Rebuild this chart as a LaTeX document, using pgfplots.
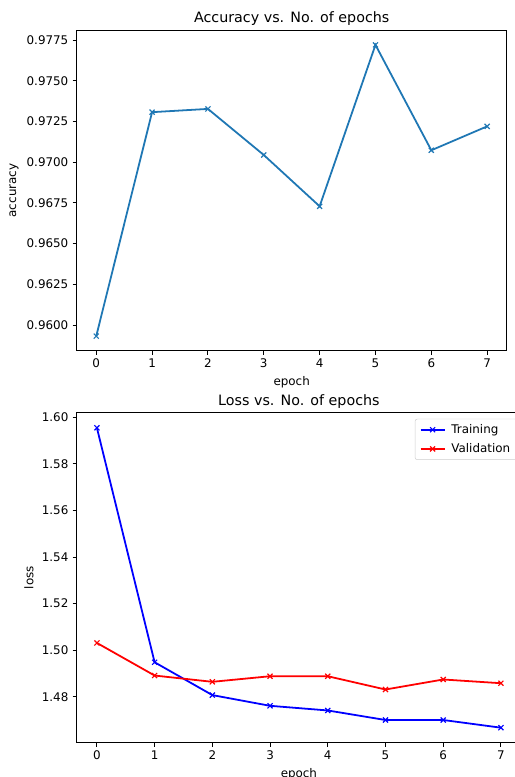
\documentclass[border=0pt]{standalone}
\usepackage{fontspec}
\setmainfont{DejaVu Sans}
\usepackage{pgfplots}
\pgfplotsset{compat=1.18}

\definecolor{mplblue}{HTML}{1F77B4}

\pgfplotsset{
  mplstyle/.style={
    scale only axis,
    axis line style={black,line width=0.8pt},
    tick style={black,line width=0.8pt},
    tick align=outside,
    major tick length=3.5pt,
    xtick pos=left, ytick pos=left,
    /pgf/number format/assume math mode=true,
    ticklabel style={font=\fontsize{10}{12}\selectfont},
    label style={font=\fontsize{10}{12}\selectfont},
    title style={font=\fontsize{12}{14}\selectfont,yshift=-5pt},
    xmin=-0.35, xmax=7.35,
    xtick={0,1,...,7},
    xlabel={epoch},
  },
}

\begin{document}
\begin{tikzpicture}
\useasboundingbox (0,0) rectangle (432.6pt,-652.68pt);
\clip (0,0) rectangle (432.6pt,-652.68pt);

% accuracy
\begin{axis}[mplstyle,
  at={(64.43pt,-25.54pt)}, anchor=north west,
  width=361.2pt, height=268.97pt,
  ymin=0.95843, ymax=0.97809,
  ytick={0.96,0.9625,0.965,0.9675,0.97,0.9725,0.975,0.9775},
  yticklabel style={/pgf/number format/fixed,/pgf/number format/fixed zerofill,/pgf/number format/precision=4},
  scaled y ticks=false,
  ylabel={accuracy},
  title={Accuracy vs. No. of epochs},
  ]
  \addplot[mplblue,line width=1.5pt,mark=x,mark size=3pt,mark options={line width=1pt}]
    coordinates {(0,0.95932)(1,0.97307)(2,0.97327)(3,0.97044)(4,0.96729)(5,0.97720)(6,0.97073)(7,0.97220)};
\end{axis}

% loss
\begin{axis}[mplstyle,
  at={(64.43pt,-346.75pt)}, anchor=north west,
  width=373.3pt, height=277.1pt,
  ymin=1.46026, ymax=1.60194,
  ytick={1.48,1.50,1.52,1.54,1.56,1.58,1.60},
  yticklabel style={/pgf/number format/fixed,/pgf/number format/fixed zerofill,/pgf/number format/precision=2},
  scaled y ticks=false,
  ylabel={loss},
  title={Loss vs. No. of epochs},
  title style={yshift=-0.5pt},
  legend style={at={(1,1)},anchor=north east,xshift=-3pt,yshift=-5pt,
    draw=black!20,rounded corners=2pt,fill=white,
    inner xsep=4pt,inner ysep=2.5pt,
    font=\fontsize{10}{12}\selectfont,row sep=3pt},
  legend cell align=left,
  legend image code/.code={%
    \draw[mark repeat=2,mark phase=2,#1]
      plot coordinates {(0pt,0pt)(10pt,0pt)(20pt,0pt)};
    \path (23pt,0pt);},
  ]
  \addplot[blue,line width=1.5pt,mark=x,mark size=3pt,mark options={line width=1pt}]
    coordinates {(0,1.5955)(1,1.4948)(2,1.4807)(3,1.4761)(4,1.4741)(5,1.4700)(6,1.4700)(7,1.4667)};
  \addlegendentry{Training}
  \addplot[red,line width=1.5pt,mark=x,mark size=3pt,mark options={line width=1pt}]
    coordinates {(0,1.5031)(1,1.4891)(2,1.4864)(3,1.4888)(4,1.4888)(5,1.4831)(6,1.4874)(7,1.4858)};
  \addlegendentry{Validation}
\end{axis}
\end{tikzpicture}
\end{document}
